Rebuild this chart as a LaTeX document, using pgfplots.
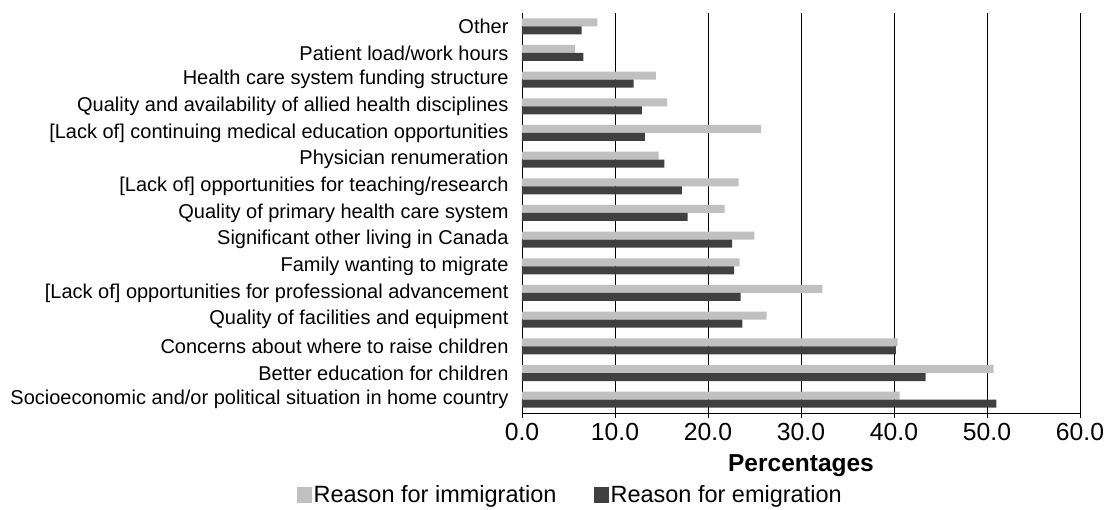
\documentclass[border=0pt]{standalone}
\usepackage{pgfplots}
\pgfplotsset{compat=1.18}
\usepackage{fontspec}
\setmainfont{Liberation Sans}
\definecolor{immig}{HTML}{C0C0C0}
\definecolor{emig}{HTML}{404040}
\begin{document}
\begin{tikzpicture}
\useasboundingbox (-522bp,-97bp) rectangle (588bp,413bp);
\begin{axis}[
    xbar,
    scale only axis,
    width=558bp, height=400bp,
    at={(0,0)}, anchor=south west,
    xmin=0, xmax=60,
    ymin=-0.5, ymax=14.5,
    axis x line*=bottom,
    axis y line*=left,
    axis line style={black, line width=0.8pt},
    xtick={0,10,...,60},
    xticklabel style={font=\fontsize{24.7bp}{28bp}\selectfont, yshift=-2bp},
    /pgf/number format/assume math mode=true,
    /pgf/number format/.cd, fixed, fixed zerofill, precision=1, /pgfplots/.cd,
    xmajorgrids,
    major grid style={black, line width=0.7pt},
    tick align=outside,
    major tick length=5bp,
    tick style={black, line width=0.8pt},
    ytick={0,...,14},
    yticklabels={
        Socioeconomic and/or political situation in home country,
        Better education for children,
        Concerns about where to raise children,
        Quality of facilities and equipment,
        {[Lack of] opportunities for professional advancement},
        Family wanting to migrate,
        Significant other living in Canada,
        Quality of primary health care system,
        {[Lack of] opportunities for teaching/research},
        Physician renumeration,
        {[Lack of] continuing medical education opportunities},
        Quality and availability of allied health disciplines,
        Health care system funding structure,
        Patient load/work hours,
        Other},
    yticklabel style={font=\fontsize{20bp}{24bp}\selectfont, xshift=-5bp},
    ytick style={draw=none},
    extra y ticks={-0.5,0.5,...,14.5},
    extra y tick labels={},
    extra y tick style={tick style={black, line width=0.8pt}, major tick length=7bp, grid=none},
    xlabel={\textbf{Percentages}},
    xlabel style={font=\fontsize{24.5bp}{28bp}\selectfont,
        at={(axis description cs:0.5,0)}, anchor=center, yshift=-53bp},
    legend style={
        at={(axis description cs:-0.403,-0.205)}, anchor=west, draw=none,
        inner sep=0pt, outer sep=0pt,
        legend columns=2,
        font=\fontsize{23.5bp}{27bp}\selectfont,
        /tikz/every even column/.append style={column sep=36bp},
        nodes={inner xsep=1.5bp},
    },
    legend image code/.code={\fill[#1] (0bp,-8bp) rectangle (15bp,8bp);},
]
\addplot[fill=immig, draw=none, bar width=8bp, bar shift=4bp] coordinates {
    (40.6,0) (50.7,1) (40.4,2) (26.3,3) (32.3,4) (23.4,5) (25.0,6) (21.8,7)
    (23.3,8) (14.7,9) (25.7,10) (15.6,11) (14.4,12) (5.7,13) (8.1,14)
};
\addlegendentry{Reason for immigration}
\addplot[fill=emig, draw=none, bar width=8bp, bar shift=-4bp] coordinates {
    (51.0,0) (43.4,1) (40.2,2) (23.7,3) (23.5,4) (22.8,5) (22.6,6) (17.8,7)
    (17.2,8) (15.3,9) (13.2,10) (12.9,11) (12.0,12) (6.6,13) (6.4,14)
};
\addlegendentry{Reason for emigration}
\end{axis}
\end{tikzpicture}
\end{document}
